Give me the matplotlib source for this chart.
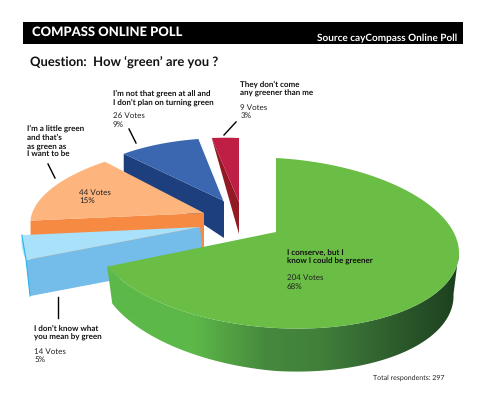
import matplotlib

matplotlib.use("Agg")
import matplotlib.pyplot as plt
import numpy as np
from matplotlib.colors import LinearSegmentedColormap
from matplotlib.patches import Polygon, Rectangle

plt.rcParams["text.hinting"] = "no_hinting"
plt.rcParams["text.hinting_factor"] = 1

# Poll results, in clockwise order from twelve o'clock
options = ["conserve", "unsure", "little", "not_green", "greenest"]
votes = [204, 14, 44, 26, 9]
vote_labels = ["204 Votes\n68%", "14 Votes\n5%", "44 Votes\n15%", "26 Votes\n9%", "9 Votes\n3%"]
total_label = "Total respondents: 297"

# center x/y, apex x/y, rx, sx, ry, k, edge depth at rim, edge depth at apex, side drift
projection = {
    "conserve": (276, 243, 276, 232, 183, 0, 85, 10, 0, 0, 0),
    "unsure": (200, 227, 200, 227, 176, 30, 87, 0.6, 36, 36, 4),
    "little": (204, 213, 204, 213, 172, 23, 70, -0.6, 50, 50, 0),
    "not_green": (224, 201, 224, 201, 153, 4, 63, 1, 18, 37, 0),
    "greenest": (239, 202, 239, 202, 144, 0, 64, 6, 0, 32, 0),
}
top_colors = {
    "conserve": "#6abd45",
    "unsure": "#a9e1fa",
    "little": "#fdb47d",
    "not_green": "#3b67b0",
    "greenest": "#bf1e45",
}
side_colors = {
    "unsure": "#74bce9",
    "little": "#f68a43",
    "not_green": "#1e3f7e",
    "greenest": "#931a24",
}

fig = plt.figure(figsize=(4.8, 4.11), dpi=100)
ax = fig.add_axes([0, 0, 1, 1])
ax.set_xlim(0, 480)
ax.set_ylim(411, 0)
ax.axis("off")


def rim(name, theta, scale=1.0, drop=0.0):
    cx, cy, _, _, rx, sx, ry, k, *_ = projection[name]
    c, s = np.cos(theta), np.sin(theta)
    return np.column_stack(
        [cx + scale * (rx * c + sx * s), cy + drop - ry * s + k * c]
    )


# Sweep of each slice, from the vote shares
shares = np.array(votes) / sum(votes) * 2 * np.pi
ends = np.pi / 2 - np.cumsum(shares)
starts = ends + shares
sweep = {n: (a, b) for n, a, b in zip(options, starts, ends)}

# Slices are painted back to front, the big one last
for name in ["greenest", "not_green", "little", "unsure"]:
    a, b = sweep[name]
    cx, cy, ax_, ay_, *_, d_rim, d_apex, drift = projection[name]
    arc = rim(name, np.linspace(a, b, 40))
    first = arc[0]
    ax.add_patch(
        Polygon(
            [first, (ax_, ay_), (ax_ + drift, ay_ + d_apex), (first[0] + drift, first[1] + d_rim)],
            closed=True,
            fc=side_colors[name],
            ec="none",
            zorder=2,
        )
    )
    ax.add_patch(
        Polygon(
            np.vstack([arc, [(ax_, ay_)]]),
            closed=True,
            fc=top_colors[name],
            ec="none",
            zorder=2,
        )
    )

# Cyan sliver down the outer corner of the light blue slice
a, b = sweep["unsure"]
corner = rim("unsure", np.array([b, a]))
ax.plot(
    [corner[0, 0], corner[1, 0], corner[1, 0] + 4],
    [corner[0, 1], corner[1, 1], corner[1, 1] + 36],
    color="#2cb5ea",
    lw=0.8,
    zorder=2,
)

# White cut along the blue slice
_, b = sweep["not_green"]
tip = rim("not_green", np.array([b]))[0]
ax.plot([tip[0], 224], [tip[1], 201], color="white", lw=0.8, zorder=2)

# Green wall with a left to right shade, a little shallower at the left end
a, b = sweep["conserve"]
side_theta = np.linspace(b, 0.02, 120)
wall_drop = np.interp(side_theta[::-1], [b, -np.pi / 2], [37, 43])
wall = np.vstack(
    [rim("conserve", side_theta), rim("conserve", side_theta[::-1], scale=0.97, drop=wall_drop)]
)
wall_shade = LinearSegmentedColormap.from_list(
    "wall",
    [
        (0.0, "#5cb848"),
        (0.25, "#5cb848"),
        (0.45, "#46893e"),
        (0.6, "#41803b"),
        (0.85, "#2a562a"),
        (1.0, "#1b3e1e"),
    ],
)
shade = ax.imshow(
    np.linspace(0, 1, 256).reshape(1, -1),
    cmap=wall_shade,
    extent=(105, 462, 380, 230),
    aspect="auto",
    zorder=3,
)
shade.set_clip_path(Polygon(wall, closed=True, transform=ax.transData))
ax.set_xlim(0, 480)
ax.set_ylim(411, 0)

# Green top and the thin inner wall at twelve o'clock
arc = rim("conserve", np.linspace(a, b, 240))
_, _, ax_, ay_, *_ = projection["conserve"]
ax.add_patch(
    Polygon(
        [arc[0], (ax_ + 3, ay_ - 2), (ax_, ay_)],
        closed=True,
        fc="#0f6b3a",
        ec="none",
        zorder=3,
    )
)
ax.add_patch(
    Polygon(np.vstack([arc, [(ax_, ay_)]]), closed=True, fc=top_colors["conserve"], ec="none", zorder=4)
)

# Header band
ax.add_patch(Rectangle((23, 22), 440, 22, fc="black", ec="none", zorder=5))
ax.text(
    32,
    32.5,
    "COMPASS ONLINE POLL",
    color="white",
    fontsize=9.5,
    fontweight="black",
    family="Lato",
    va="center",
    zorder=6,
)
ax.text(
    457,
    38,
    "Source cayCompass Online Poll",
    color="white",
    fontsize=6.9,
    fontweight="bold",
    family="Lato",
    ha="right",
    va="center",
    zorder=6,
)
ax.text(
    30,
    62,
    "Question:  How ‘green’ are you ?",
    color="#111111",
    fontsize=9.1,
    fontweight="bold",
    family="Lato",
    va="center",
)

# Option captions and their vote counts
captions = [
    ("I conserve, but I\nknow I could be greener", 287, 257.5, 0, 282),
    ("I don’t know what\nyou mean by green", 34.5, 333, 1, 355.5),
    ("I’m a little green\nand that’s\nas green as\nI want to be", 27, 141.5, 2, None),
    ("I’m not that green at all and\nI don’t plan on turning green", 113, 98, 3, 120),
    ("They don’t come\nany greener than me", 240.5, 89, 4, 111.5),
]
for text, x, y, idx, y_votes in captions:
    ax.text(
        x,
        y,
        text,
        fontsize=6.0,
        fontweight="bold",
        family="Lato",
        color="#111111",
        va="center",
        linespacing=1.22,
        zorder=6,
    )
    if y_votes is not None:
        ax.text(
            x,
            y_votes,
            vote_labels[idx],
            fontsize=6.0,
            family="Lato",
            color="#222222",
            va="center",
            linespacing=1.2,
            zorder=6,
        )
ax.text(79, 196.5, vote_labels[2], fontsize=6.0, family="Lato", color="#222222", va="center", linespacing=1.2, zorder=6)
ax.text(
    373,
    378,
    total_label,
    fontsize=5.4,
    family="Lato",
    color="#222222",
    va="center",
    zorder=6,
)

# Leader lines
leaders = [
    ((129, 136), (129, 143)),
    ((236, 224), (122, 135)),
    ((48, 55), (164, 178)),
    ((58, 58), (297, 318)),
]
for xs, ys in leaders:
    ax.plot(xs, ys, color="black", lw=1.0, zorder=6)

fig.savefig("out.png", dpi=100, facecolor="white")
